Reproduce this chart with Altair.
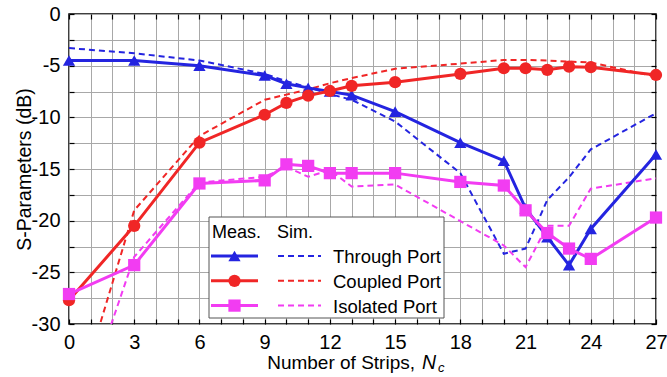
import altair as alt
import pandas as pd

FONT = "Liberation Sans"

PORTS = ["Through Port", "Coupled Port", "Isolated Port"]
COLORS = ["#2424e0", "#f02626", "#f23cf2"]
SHAPES = ["triangle-up", "circle", "square"]

# Measured data
MEAS_X = [0, 3, 6, 9, 10, 11, 12, 13, 15, 18, 20, 21, 22, 23, 24, 27]
MEAS_THROUGH = [-4.5, -4.5, -5.0, -5.95, -6.75, -7.15, -7.5, -7.85, -9.45, -12.45, -14.2, -18.8, -21.6, -24.3, -20.8, -13.6]
MEAS_COUPLED = [-27.7, -20.5, -12.45, -9.75, -8.6, -7.9, -7.45, -6.95, -6.6, -5.8, -5.25, -5.25, -5.4, -5.1, -5.15, -5.9]
MEAS_ISOLATED = [-27.1, -24.3, -16.4, -16.1, -14.55, -14.7, -15.4, -15.4, -15.4, -16.25, -16.6, -19.0, -21.2, -22.7, -23.7, -19.7]

# Simulated data
SIM_THROUGH_X = [0, 3, 6, 9, 10, 11, 12, 13, 15, 18, 20, 21, 22, 23, 24, 27]
SIM_THROUGH = [-3.3, -3.8, -4.5, -5.8, -6.5, -7.1, -7.75, -8.3, -10.4, -15.4, -23.2, -22.7, -18.0, -15.8, -13.1, -9.6]
SIM_COUPLED_X = [0, 3, 6, 9, 10, 11, 12, 13, 15, 18, 20, 21, 22, 23, 24, 27]
SIM_COUPLED = [-40.0, -19.0, -11.8, -8.3, -7.8, -7.3, -6.7, -6.2, -5.3, -4.8, -4.45, -4.45, -4.5, -4.6, -4.7, -6.05]
SIM_ISOLATED_X = [0, 3, 6, 9, 10, 11, 12, 13, 15, 20, 21, 22, 23, 24, 27]
SIM_ISOLATED = [-42.0, -23.5, -16.3, -15.75, -14.8, -15.75, -15.1, -16.7, -16.5, -22.4, -24.5, -20.5, -20.5, -16.9, -15.9]

X_TICKS = list(range(0, 28))
Y_TICKS = [-30 + 2.5 * i for i in range(13)]

meas = pd.concat([
    pd.DataFrame({"x": MEAS_X, "y": vals, "port": p})
    for p, vals in zip(PORTS, [MEAS_THROUGH, MEAS_COUPLED, MEAS_ISOLATED])
])
sim = pd.concat([
    pd.DataFrame({"x": xs, "y": vals, "port": p})
    for p, xs, vals in zip(PORTS, [SIM_THROUGH_X, SIM_COUPLED_X, SIM_ISOLATED_X],
                           [SIM_THROUGH, SIM_COUPLED, SIM_ISOLATED])
])

xs = alt.Scale(domain=[0, 27], nice=False, zero=False)
ys = alt.Scale(domain=[-30, 0], nice=False, zero=False)
cs = alt.Scale(domain=PORTS, range=COLORS)
ss = alt.Scale(domain=PORTS, range=SHAPES)

axis_bottom = alt.Axis(
    orient="bottom", values=X_TICKS,
    labelExpr="datum.value % 3 === 0 ? '' + datum.value : ''",
    grid=True, gridColor="#a8a8a8", gridWidth=1,
    ticks=True, tickSize=5, tickColor="black", tickWidth=1.2, offset=-5,
    domain=False, labelFontSize=20, labelFont=FONT, labelColor="black",
    labelPadding=8, labelOverlap=False, labelFlush=False, title=None,
)
axis_left = alt.Axis(
    orient="left", values=Y_TICKS,
    labelExpr="datum.value % 5 === 0 ? '' + datum.value : ''",
    grid=True, gridColor="#a8a8a8", gridWidth=1,
    ticks=True, tickSize=5, tickColor="black", tickWidth=1.2, offset=-5,
    domain=False, labelFontSize=20, labelFont=FONT, labelColor="black",
    labelPadding=9, labelOverlap=False, labelFlush=False,
    title="S-Parameters (dB)", titleFont=FONT, titleFontSize=19.5,
    titleFontWeight="normal", titleColor="black", titlePadding=-3,
)
axis_top = alt.Axis(
    orient="top", values=X_TICKS, labels=False, grid=False,
    ticks=True, tickSize=5, tickColor="black", tickWidth=1.2, offset=-5,
    domain=False, title=None,
)
axis_right = alt.Axis(
    orient="right", values=Y_TICKS, labels=False, grid=False,
    ticks=True, tickSize=5, tickColor="black", tickWidth=1.2, offset=-5,
    domain=False, title=None,
)

sim_lines = alt.Chart(sim).mark_line(strokeWidth=2, strokeDash=[6, 4], clip=True).encode(
    x=alt.X("x:Q", scale=xs, axis=axis_top),
    y=alt.Y("y:Q", scale=ys, axis=axis_right),
    color=alt.Color("port:N", scale=cs, legend=None),
    detail="port:N",
)
meas_lines = alt.Chart(meas).mark_line(strokeWidth=3).encode(
    x=alt.X("x:Q", scale=xs, axis=axis_bottom),
    y=alt.Y("y:Q", scale=ys, axis=axis_left),
    color=alt.Color("port:N", scale=cs, legend=None),
    detail="port:N",
)
meas_points = alt.Chart(meas).mark_point(filled=True, opacity=1, size=150).encode(
    x=alt.X("x:Q", scale=xs, axis=None),
    y=alt.Y("y:Q", scale=ys, axis=None),
    color=alt.Color("port:N", scale=cs, legend=None),
    shape=alt.Shape("port:N", scale=ss, legend=None),
)

# ---- hand-built legend (Meas. / Sim. columns) ----
legend_layers = []
legend_layers.append(
    alt.Chart().mark_rect(fill="white", stroke="#555555", strokeWidth=1).encode(
        x=alt.value(140), x2=alt.value(375), y=alt.value(203), y2=alt.value(304)
    )
)
for txt, xp in [("Meas.", 143), ("Sim.", 208)]:
    legend_layers.append(
        alt.Chart().mark_text(align="left", baseline="alphabetic", font=FONT,
                              fontSize=18, color="black").encode(
            x=alt.value(xp), y=alt.value(224), text=alt.value(txt)
        )
    )
ROW_Y = [242, 266.8, 291.6]
for port, col, shp, ry in zip(PORTS, COLORS, SHAPES, ROW_Y):
    legend_layers.append(
        alt.Chart().mark_rule(color=col, strokeWidth=3).encode(
            x=alt.value(142), x2=alt.value(189), y=alt.value(ry)
        )
    )
    legend_layers.append(
        alt.Chart().mark_point(shape=shp, filled=True, opacity=1, size=150, color=col).encode(
            x=alt.value(165.5), y=alt.value(ry)
        )
    )
    legend_layers.append(
        alt.Chart().mark_rule(color=col, strokeWidth=2, strokeDash=[6, 4]).encode(
            x=alt.value(209), x2=alt.value(252), y=alt.value(ry)
        )
    )
    legend_layers.append(
        alt.Chart().mark_text(align="left", baseline="middle", font=FONT,
                              fontSize=18.5, color="black", dy=1).encode(
            x=alt.value(264), y=alt.value(ry), text=alt.value(port)
        )
    )

# ---- x-axis title with italic N and subscript c ----
xtitle = [
    alt.Chart().mark_text(align="right", baseline="alphabetic", font=FONT,
                          fontSize=19, color="black").encode(
        x=alt.value(346), y=alt.value(354.5), text=alt.value("Number of Strips,")
    ),
    alt.Chart().mark_text(align="left", baseline="alphabetic", font=FONT,
                          fontSize=19.5, fontStyle="italic", color="black").encode(
        x=alt.value(353), y=alt.value(354.5), text=alt.value("N")
    ),
    alt.Chart().mark_text(align="left", baseline="alphabetic", font=FONT,
                          fontSize=13, fontStyle="italic", color="black").encode(
        x=alt.value(369), y=alt.value(358), text=alt.value("c")
    ),
]

chart = alt.layer(
    sim_lines, meas_lines, meas_points, *legend_layers, *xtitle
).resolve_axis(
    x="independent", y="independent"
).properties(
    width=587, height=310,
    autosize=alt.AutoSizeParams(type="none"),
    padding={"left": 69, "top": 14, "right": 11, "bottom": 53},
    background="white",
).configure_view(
    stroke="black", strokeWidth=1.5
)

chart.save("out.html", embed_options={"renderer": "svg", "actions": False})
